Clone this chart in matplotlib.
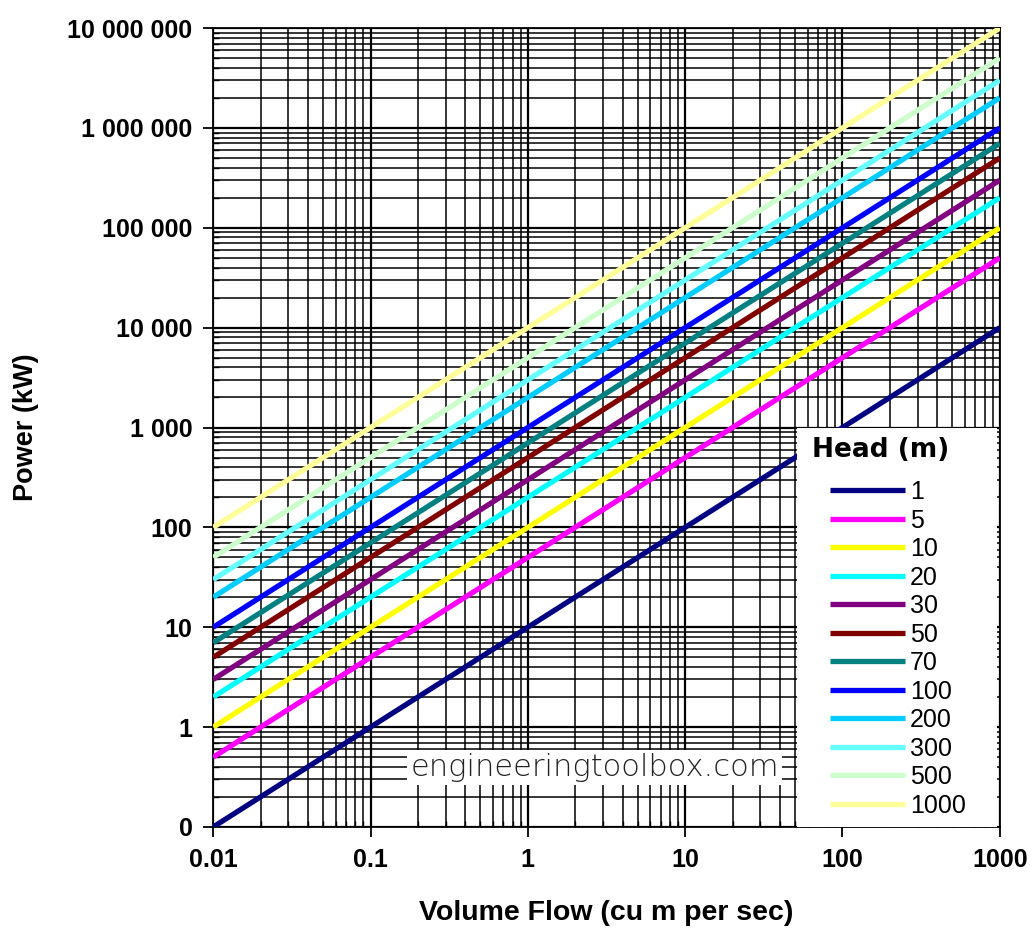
import matplotlib
matplotlib.use("Agg")
import matplotlib.pyplot as plt
from matplotlib.patches import Rectangle
from matplotlib.ticker import FixedLocator, LogLocator, FuncFormatter, NullFormatter

# head (m) and power (kW) read at the two ends of each line
flow = [0.01, 1000]
heads = ["1", "5", "10", "20", "30", "50", "70", "100", "200", "300", "500", "1000"]
power_start = [0.1, 0.5, 1, 2, 3, 5, 7, 10, 20, 30, 50, 100]
power_end = [1e4, 5e4, 1e5, 2e5, 3e5, 5e5, 7e5, 1e6, 2e6, 3e6, 5e6, 1e7]
colors = ["#000080", "#FF00FF", "#FFFF00", "#00FFFF", "#800080", "#800000",
          "#008080", "#0000FF", "#00CCFF", "#66FFFF", "#CCFFCC", "#FFFF99"]

x_ticks = [0.01, 0.1, 1, 10, 100, 1000]
x_labels = ["0.01", "0.1", "1", "10", "100", "1000"]
y_ticks = [0.1, 1, 10, 100, 1e3, 1e4, 1e5, 1e6, 1e7]

plt.rcParams['font.family'] = ['Liberation Sans', 'DejaVu Sans']

fig = plt.figure(figsize=(10.35, 9.36), dpi=100)
ax = fig.add_axes([0.206, 0.1165, 0.760, 0.8535])

for h, p0, p1, c in zip(heads, power_start, power_end, colors):
    ax.plot(flow, [p0, p1], color=c, lw=3.8, label=h, solid_capstyle='butt', zorder=3)

ax.set_xscale('log')
ax.set_yscale('log')
ax.set_xlim(0.01, 1000)
ax.set_ylim(0.1, 1e7)

ax.xaxis.set_major_locator(FixedLocator(x_ticks))
ax.set_xticklabels(x_labels)
ax.xaxis.set_minor_locator(LogLocator(base=10, subs=range(2, 10), numticks=50))
ax.xaxis.set_minor_formatter(NullFormatter())

def ylab(v, pos):
    if v < 1:
        return "0"
    return f"{int(round(v)):,}".replace(",", " ")

ax.yaxis.set_major_locator(FixedLocator(y_ticks))
ax.yaxis.set_major_formatter(FuncFormatter(ylab))
ax.yaxis.set_minor_locator(LogLocator(base=10, subs=range(2, 10), numticks=50))
ax.yaxis.set_minor_formatter(NullFormatter())

ax.grid(True, which='major', color='black', lw=1.6, zorder=1)
ax.grid(True, which='minor', color='black', lw=1.1, zorder=1)
ax.set_axisbelow(True)

ax.tick_params(axis='both', which='major', direction='out', length=7, width=1.3,
               labelsize=18, pad=8)
ax.tick_params(axis='both', which='minor', direction='in', length=4, width=1.0)
for lab in ax.get_xticklabels() + ax.get_yticklabels():
    lab.set_fontweight('bold')
for s in ax.spines.values():
    s.set_linewidth(1.3)

ax.set_xlabel("Volume Flow (cu m per sec)", fontsize=20.5, fontweight='bold', labelpad=20)
ax.set_ylabel("Power (kW)", fontsize=19.5, fontweight='bold', labelpad=20)

ax.text(0.485, 0.074, "engineeringtoolbox.com", transform=ax.transAxes,
        fontsize=22, ha='center', va='center', color='#222222', family='DejaVu Sans',
        fontweight='light',
        bbox=dict(boxstyle='square,pad=0.1', fc='white', ec='none'), zorder=4)

# white legend panel down to the x axis
ax.add_patch(Rectangle((0.742, 0.0), 0.254, 0.499, transform=ax.transAxes,
                       fc='white', ec='none', zorder=4.5))
ax.text(0.761, 0.472, "Head (m)", transform=ax.transAxes, fontsize=19,
        fontweight='bold', family='DejaVu Sans', ha='left', va='center', zorder=6)

leg = ax.legend(loc='upper left', bbox_to_anchor=(0.784, 0.434),
                fontsize=18, frameon=False,
                handlelength=3.0, handletextpad=0.2, labelspacing=0.18,
                borderaxespad=0, borderpad=0)
leg.set_zorder(6)

fig.savefig("out.png", dpi=100, facecolor='white')
